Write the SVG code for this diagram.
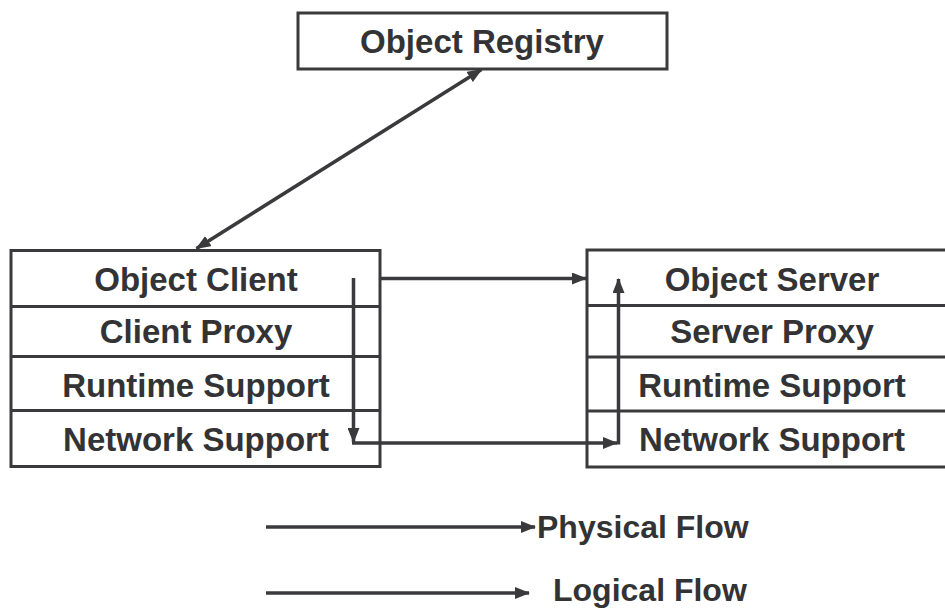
<svg xmlns="http://www.w3.org/2000/svg" width="945" height="608" viewBox="0 0 945 608">
<style>
.box{fill:#fff;stroke:#3a3a3c;stroke-width:3}
.div{stroke:#3a3a3c;stroke-width:3}
.t{font-family:"Liberation Sans",Arial,sans-serif;font-weight:bold;font-size:33px;fill:#333335;text-anchor:middle}
.lg{font-family:"Liberation Sans",Arial,sans-serif;font-weight:bold;font-size:32px;fill:#333335}
.c{stroke:#3a3a3c;stroke-width:3.5;fill:none}
</style>
<defs>
<marker id="ah" markerUnits="userSpaceOnUse" markerWidth="15" markerHeight="12" refX="14" refY="6" orient="auto-start-reverse">
<path d="M0,0 L15,6 L0,12 Z" fill="#3a3a3c"/>
</marker>
</defs>
<rect width="945" height="608" fill="#fff"/>
<g id="registry">
<rect class="box" x="298" y="13" width="369" height="56"/>
<text class="t" x="482" y="53">Object Registry</text>
</g>
<g id="client">
<rect class="box" x="11" y="250.5" width="369" height="216"/>
<line class="div" x1="11" y1="306.5" x2="380" y2="306.5"/>
<line class="div" x1="11" y1="356.5" x2="380" y2="356.5"/>
<line class="div" x1="11" y1="410.5" x2="380" y2="410.5"/>
<text class="t" x="196" y="291">Object Client</text>
<text class="t" x="196" y="343">Client Proxy</text>
<text class="t" x="196" y="397">Runtime Support</text>
<text class="t" x="196" y="451">Network Support</text>
</g>
<g id="server">
<rect class="box" x="587" y="250" width="370" height="217"/>
<line class="div" x1="587" y1="305.5" x2="960" y2="305.5"/>
<line class="div" x1="587" y1="357" x2="960" y2="357"/>
<line class="div" x1="587" y1="411" x2="960" y2="411"/>
<text class="t" x="772" y="291">Object Server</text>
<text class="t" x="772" y="343">Server Proxy</text>
<text class="t" x="772" y="397">Runtime Support</text>
<text class="t" x="772" y="451">Network Support</text>
</g>
<g id="connectors">
<line class="c" x1="481.5" y1="69.5" x2="196.5" y2="248.5" marker-start="url(#ah)" marker-end="url(#ah)"/>
<line class="c" x1="380" y1="278.5" x2="586" y2="278.5" marker-end="url(#ah)"/>
<line class="c" x1="353.5" y1="278" x2="353.5" y2="442" marker-end="url(#ah)"/>
<line class="c" x1="352" y1="443" x2="617" y2="443" marker-end="url(#ah)"/>
<line class="c" x1="618.5" y1="444.5" x2="618.5" y2="279" marker-end="url(#ah)"/>
</g>
<g id="legend">
<line class="c" x1="266" y1="527" x2="535" y2="527" marker-end="url(#ah)"/>
<text class="lg" x="537" y="538">Physical Flow</text>
<line class="c" x1="266" y1="593" x2="529" y2="593" marker-end="url(#ah)"/>
<text class="lg" x="553" y="601">Logical Flow</text>
</g>
</svg>
